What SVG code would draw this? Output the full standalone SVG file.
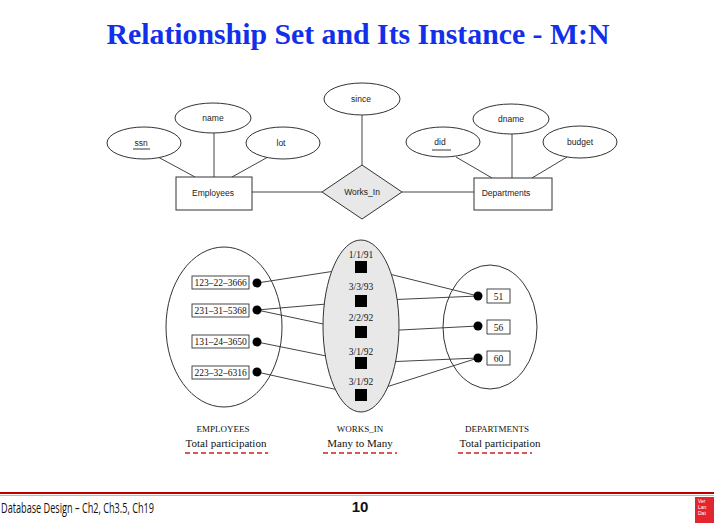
<svg xmlns="http://www.w3.org/2000/svg" width="714" height="523" viewBox="0 0 714 523">
<style>
.er{fill:#fff;stroke:#333;stroke-width:1}
.rel{fill:#e8e8e8;stroke:#333;stroke-width:1}
.ln{stroke:#444;stroke-width:1;fill:none}
.lbl{font-family:"Liberation Sans",Arial,sans-serif;font-size:8.5px;fill:#222;text-anchor:middle}
.tm{font-family:"Liberation Serif","Times New Roman",serif;fill:#111;text-anchor:middle}
.num{font-family:"Liberation Serif","Times New Roman",serif;font-size:9.5px;fill:#111;text-anchor:middle}
.box{fill:#fff;stroke:#333;stroke-width:0.9}
.dash{stroke:#d42020;stroke-width:1.5;stroke-dasharray:5,3;fill:none}
</style>
<rect width="714" height="523" fill="#fff"/>
<text x="358" y="44" font-family="'Liberation Serif','Times New Roman',serif" font-weight="bold" font-size="29" fill="#1230ea" text-anchor="middle" textLength="503" lengthAdjust="spacingAndGlyphs">Relationship Set and Its Instance - M:N</text>

<g id="connectors">
<line class="ln" x1="158" y1="157" x2="195" y2="177"/>
<line class="ln" x1="214" y1="132" x2="214" y2="177"/>
<line class="ln" x1="268" y1="157" x2="232" y2="177"/>
<line class="ln" x1="252" y1="192" x2="322" y2="192"/>
<line class="ln" x1="362" y1="115" x2="362" y2="165"/>
<line class="ln" x1="402" y1="192" x2="474" y2="192"/>
<line class="ln" x1="456" y1="157" x2="492" y2="178"/>
<line class="ln" x1="512" y1="134" x2="512" y2="178"/>
<line class="ln" x1="567" y1="157" x2="532" y2="178"/>
<line class="ln" x1="257" y1="283" x2="361" y2="267"/>
<line class="ln" x1="257" y1="310" x2="361" y2="301"/>
<line class="ln" x1="257" y1="310" x2="361" y2="332"/>
<line class="ln" x1="257" y1="342" x2="361" y2="363"/>
<line class="ln" x1="257" y1="372" x2="361" y2="395"/>
<line class="ln" x1="361" y1="267" x2="478" y2="296"/>
<line class="ln" x1="361" y1="301" x2="478" y2="296"/>
<line class="ln" x1="361" y1="332" x2="478" y2="326"/>
<line class="ln" x1="361" y1="363" x2="478" y2="358"/>
<line class="ln" x1="361" y1="395" x2="478" y2="358"/>
</g>

<g id="ssn"><ellipse class="er" cx="144" cy="143" rx="37" ry="16"/><text class="lbl" x="141" y="146">ssn</text><line x1="133" y1="149" x2="150" y2="149" stroke="#222" stroke-width="0.9"/></g>
<g id="name"><ellipse class="er" cx="213" cy="118" rx="38" ry="15"/><text class="lbl" x="213" y="121">name</text></g>
<g id="lot"><ellipse class="er" cx="283" cy="143" rx="37" ry="16"/><text class="lbl" x="281" y="146">lot</text></g>
<g id="employees"><rect class="er" x="176" y="177" width="76" height="33"/><text class="lbl" x="213" y="196">Employees</text></g>
<g id="since"><ellipse class="er" cx="362" cy="99" rx="38" ry="16"/><text class="lbl" x="361" y="102">since</text></g>
<g id="works_in"><polygon class="rel" points="362,165 402,192 362,219 322,192"/><text class="lbl" x="362" y="195">Works_In</text></g>
<g id="did"><ellipse class="er" cx="443" cy="142" rx="37" ry="15"/><text class="lbl" x="440" y="145">did</text><line x1="432" y1="150" x2="451" y2="150" stroke="#222" stroke-width="0.9"/></g>
<g id="dname"><ellipse class="er" cx="511" cy="119" rx="38" ry="15"/><text class="lbl" x="511" y="122">dname</text></g>
<g id="budget"><ellipse class="er" cx="580" cy="142" rx="37" ry="16"/><text class="lbl" x="580" y="145">budget</text></g>
<g id="departments"><rect class="er" x="474" y="178" width="78" height="32"/><text class="lbl" x="506" y="196">Departments</text></g>

<g id="employees-set">
<ellipse cx="224" cy="327" rx="58" ry="80" fill="none" stroke="#333" stroke-width="1"/>
<rect class="box" x="192" y="276" width="57" height="13"/><text class="num" x="220.5" y="286">123–22–3666</text>
<rect class="box" x="192" y="304" width="57" height="13"/><text class="num" x="220.5" y="314">231–31–5368</text>
<rect class="box" x="192" y="335" width="57" height="13"/><text class="num" x="220.5" y="345">131–24–3650</text>
<rect class="box" x="192" y="366" width="57" height="13"/><text class="num" x="220.5" y="376">223–32–6316</text>
<circle cx="257" cy="283" r="4.5" fill="#000"/>
<circle cx="257" cy="310" r="4.5" fill="#000"/>
<circle cx="257" cy="342" r="4.5" fill="#000"/>
<circle cx="257" cy="372" r="4.5" fill="#000"/>
</g>

<g id="works-in-set">
<ellipse cx="361" cy="326" rx="38" ry="86" fill="#e8e8e8" stroke="#333" stroke-width="1"/>
<text class="num" x="361" y="258" font-size="9">1/1/91</text>
<text class="num" x="361" y="290" font-size="9">3/3/93</text>
<text class="num" x="361" y="321" font-size="9">2/2/92</text>
<text class="num" x="361" y="355" font-size="9">3/1/92</text>
<text class="num" x="361" y="385" font-size="9">3/1/92</text>
<rect x="355" y="261" width="12" height="12" fill="#000"/>
<rect x="355" y="295" width="12" height="12" fill="#000"/>
<rect x="355" y="326" width="12" height="12" fill="#000"/>
<rect x="355" y="357" width="12" height="12" fill="#000"/>
<rect x="355" y="389" width="12" height="12" fill="#000"/>
</g>

<g id="departments-set">
<ellipse cx="490" cy="327" rx="47" ry="62" fill="none" stroke="#333" stroke-width="1"/>
<circle cx="478" cy="296" r="4.5" fill="#000"/>
<circle cx="478" cy="326" r="4.5" fill="#000"/>
<circle cx="478" cy="358" r="4.5" fill="#000"/>
<rect class="box" x="487" y="289" width="23" height="14"/><text class="num" x="498.5" y="299.5">51</text>
<rect class="box" x="487" y="320" width="23" height="14"/><text class="num" x="498.5" y="330.5">56</text>
<rect class="box" x="487" y="351" width="23" height="14"/><text class="num" x="498.5" y="361.5">60</text>
</g>

<g id="captions">
<text class="tm" x="223" y="432" font-size="9">EMPLOYEES</text>
<text class="tm" x="226" y="447" font-size="11">Total participation</text>
<line class="dash" x1="185" y1="453" x2="268" y2="453"/>
<text class="tm" x="360" y="432" font-size="9">WORKS_IN</text>
<text class="tm" x="360" y="447" font-size="11">Many to Many</text>
<line class="dash" x1="323" y1="453" x2="397" y2="453"/>
<text class="tm" x="497" y="432" font-size="9">DEPARTMENTS</text>
<text class="tm" x="500" y="447" font-size="11">Total participation</text>
<line class="dash" x1="458" y1="453" x2="532" y2="453"/>
</g>

<g id="footer">
<line x1="0" y1="493" x2="714" y2="493" stroke="#b80000" stroke-width="2.2"/>
<line x1="0" y1="495.5" x2="714" y2="495.5" stroke="#f0a0a0" stroke-width="1"/>
<text x="1" y="513" font-family="'Open Sans','Liberation Sans',sans-serif" font-size="14" fill="#111" textLength="153" lengthAdjust="spacingAndGlyphs">Database Design – Ch2, Ch3.5, Ch19</text>
<text x="360" y="512" font-family="'Liberation Sans',Arial,sans-serif" font-weight="bold" font-size="15" fill="#111" text-anchor="middle">10</text>
<rect x="695" y="497" width="19" height="26" fill="#e3262e"/>
<text x="698" y="503" font-family="'Liberation Sans',sans-serif" font-size="5" fill="#fff">Ver</text>
<text x="698" y="509" font-family="'Liberation Sans',sans-serif" font-size="5" fill="#fff">Lan</text>
<text x="698" y="515" font-family="'Liberation Sans',sans-serif" font-size="5" fill="#fff">Dat</text>
</g>
</svg>
